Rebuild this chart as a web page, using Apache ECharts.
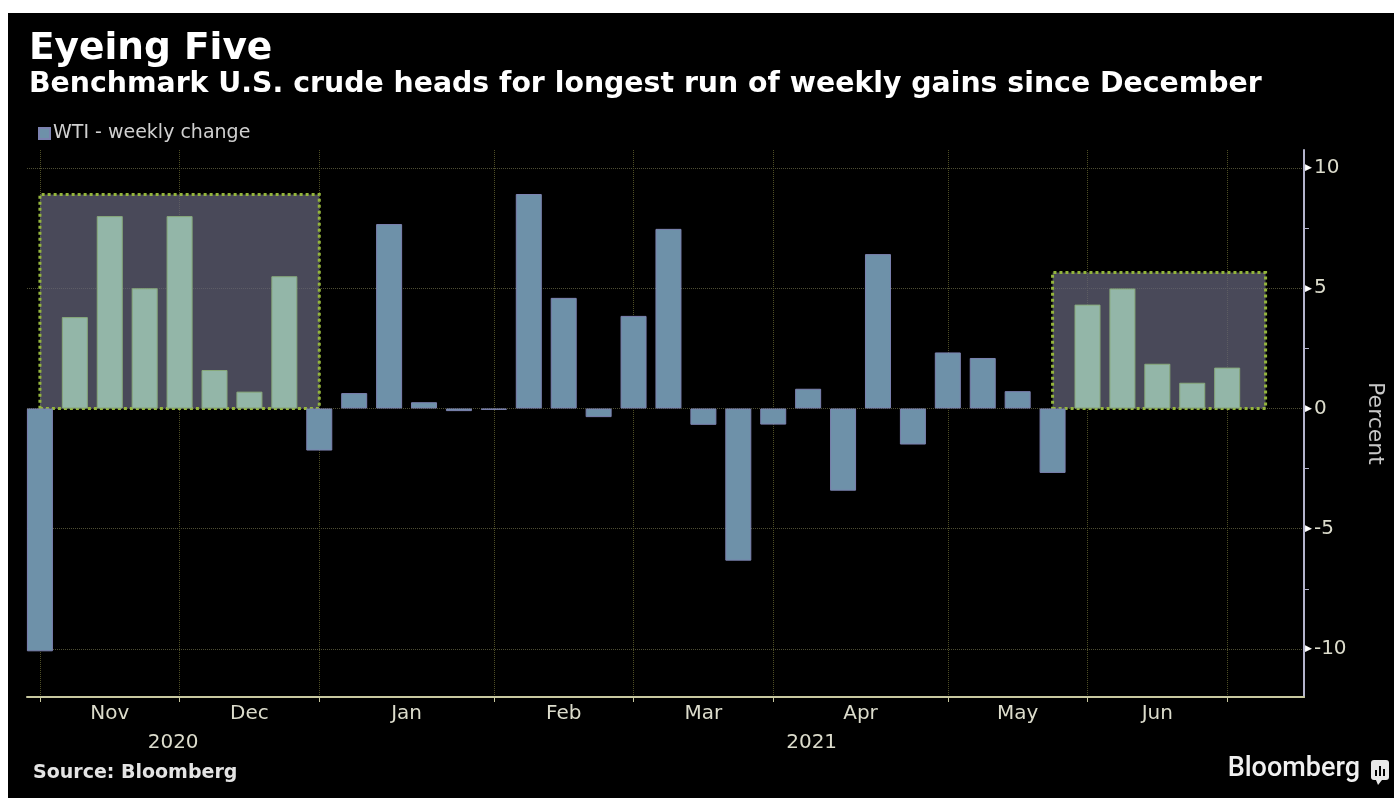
<!DOCTYPE html>
<html>
<head>
<meta charset="utf-8">
<title>Eyeing Five</title>
<script src="https://cdn.jsdelivr.net/npm/echarts@6/dist/echarts.min.js"></script>
<style>
	html, body { margin: 0; padding: 0; background: #fff; }
	#main { position: absolute; left: 8px; top: 13px; width: 1386px; height: 785px; background: #000; }
</style>
</head>
<body>
<div id="main"></div>
<script>
	// weekly closes (Fridays), Oct 30 2020 -> Jun 25 2021
	const weeks = [
		'2020-10-30', '2020-11-06', '2020-11-13', '2020-11-20', '2020-11-27',
		'2020-12-04', '2020-12-11', '2020-12-18', '2020-12-25',
		'2021-01-01', '2021-01-08', '2021-01-15', '2021-01-22', '2021-01-29',
		'2021-02-05', '2021-02-12', '2021-02-19', '2021-02-26',
		'2021-03-05', '2021-03-12', '2021-03-19', '2021-03-26',
		'2021-04-02', '2021-04-09', '2021-04-16', '2021-04-23', '2021-04-30',
		'2021-05-07', '2021-05-14', '2021-05-21', '2021-05-28',
		'2021-06-04', '2021-06-11', '2021-06-18', '2021-06-25'
	]
	// WTI weekly change, percent
	const wtiChange = [
		-10.1, 3.8, 8.0, 5.0, 8.0, 1.6, 0.7, 5.5, -1.75,
		0.64, 7.67, 0.26, -0.11, -0.06,
		8.92, 4.6, -0.36, 3.85,
		7.47, -0.68, -6.33, -0.67,
		0.82, -3.42, 6.42, -1.5, 2.33,
		2.1, 0.72, -2.68, 4.32,
		4.99, 1.86, 1.07, 1.7
	]
	const monthLabels = ['Nov', 'Dec', 'Jan', 'Feb', 'Mar', 'Apr', 'May', 'Jun']
	const yearLabels = ['2020', '2021']
	const yLabels = [-10, -5, 0, 5, 10]
	const yTicks = [-10, -7.5, -5, -2.5, 0, 2.5, 5, 7.5, 10]
	// winning streaks: [from week index, to week index, box top]
	const highlights = [
		[0, 8, 8.9],
		[29, 35.1, 5.65]
	]

	const xMin = -0.37
	const xMax = 36.2

	// gridlines sit on the last week of every month
	const monthEnds = []
	weeks.forEach((d, i) => {
		const next = weeks[i + 1]
		if (!next || next.slice(5, 7) !== d.slice(5, 7)) monthEnds.push(i)
	})
	const monthMids = []
	const monthMap = {}
	for (let k = 0; k < monthEnds.length - 1; k++) {
		const m = (monthEnds[k] + monthEnds[k + 1]) / 2
		monthMids.push(m)
		monthMap[m] = monthLabels[k]
	}
	// year break = last week of 2020
	let yearBreak = 0
	weeks.forEach((d, i) => {
		if (d.slice(0, 4) === '2020') yearBreak = i
	})
	const yearMids = [(xMin + yearBreak) / 2, (yearBreak + xMax) / 2]
	const yearMap = {}
	yearMids.forEach((m, k) => (yearMap[m] = yearLabels[k]))

	const inStreak = (i) => highlights.some((h) => i > h[0] && i < h[1])

	const barData = wtiChange.map((v, i) => {
		const hi = inStreak(i) && v > 0
		return {
			value: [i, v],
			itemStyle: hi ? { color: '#93b6a8', borderColor: '#87a97a' } : {}
		}
	})

	const font = 'DejaVu Sans'
	const labelColor = '#dcdccc'

	const option = {
		backgroundColor: '#000',
		animation: false,
		title: [
			{
				text: 'Eyeing Five',
				left: 16,
				top: 12,
				textStyle: { color: '#fff', fontFamily: font, fontWeight: 'bold', fontSize: 37.5 }
			},
			{
				text: 'Benchmark U.S. crude heads for longest run of weekly gains since December',
				left: 16,
				top: 53,
				textStyle: { color: '#fff', fontFamily: font, fontWeight: 'bold', fontSize: 28.35 }
			}
		],
		legend: {
			data: ['WTI - weekly change'],
			left: 25,
			top: 106,
			icon: 'rect',
			itemWidth: 11,
			itemHeight: 11,
			itemGap: 6,
			textStyle: { color: '#d0d0d0', fontFamily: font, fontSize: 19, padding: [0, 0, 0, -2] }
		},
		grid: { left: 19, right: 84, top: 137, bottom: 101 },
		xAxis: [
			{
				type: 'value',
				min: xMin,
				max: xMax,
				axisLine: { show: true, onZero: false, lineStyle: { color: '#c8c8a0', width: 2 } },
				axisTick: { show: true, customValues: monthEnds, length: 5, lineStyle: { color: '#c8c8a0' } },
				axisLabel: {
					customValues: monthMids,
					margin: 7,
					color: labelColor,
					fontFamily: font,
					fontSize: 20,
					formatter: (v) => monthMap[v] || ''
				},
				splitLine: { show: true, lineStyle: { color: '#4e4e26', type: 'dotted', width: 1 } }
			},
			{
				type: 'value',
				min: xMin,
				max: xMax,
				position: 'bottom',
				offset: 30,
				axisLine: { show: false },
				axisTick: { show: true, customValues: [yearBreak], length: 30, lineStyle: { color: '#c8c8a0' } },
				axisLabel: {
					customValues: yearMids,
					margin: 6,
					color: labelColor,
					fontFamily: font,
					fontSize: 20,
					formatter: (v) => yearMap[v] || ''
				},
				splitLine: { show: false }
			}
		],
		yAxis: {
			type: 'value',
			position: 'right',
			min: -12,
			max: 10.75,
			name: 'Percent',
			nameLocation: 'middle',
			nameRotate: -90,
			nameGap: 60,
			nameTextStyle: { color: '#c8c8c8', fontFamily: font, fontSize: 22 },
			axisLine: { show: true, onZero: false, lineStyle: { color: '#b4b4cc', width: 2 } },
			axisTick: { show: true, customValues: yTicks, length: 5, lineStyle: { color: '#b4b4cc' } },
			axisLabel: {
				customValues: yLabels,
				margin: 1,
				color: labelColor,
				fontFamily: font,
				fontSize: 20,
				formatter: (v) => '{t|▶}' + v,
				rich: { t: { color: '#fff', fontSize: 9, padding: [0, 2, 0, 0] } }
			},
			splitLine: {
				show: true,
				lineStyle: { color: ['#4e4e34', 'rgba(0,0,0,0)'], type: 'dotted', width: 1 }
			}
		},
		series: [
			{
				name: 'WTI - weekly change',
				type: 'bar',
				barWidth: 26,
				z: 3,
				itemStyle: { color: '#6e91a9', borderColor: '#7c82b0', borderWidth: 1 },
				data: barData,
				markArea: {
					silent: true,
					itemStyle: {
						color: 'rgba(98,98,120,0.74)',
						borderColor: '#94b53c',
						borderWidth: 3,
						borderType: 'dotted'
					},
					data: highlights.map((h) => [{ coord: [h[0], h[2]] }, { coord: [h[1], 0] }])
				}
			}
		],
		graphic: [
			{
				type: 'text',
				left: 25,
				top: 751,
				style: { text: 'Source: Bloomberg', fill: '#e4e4e4', font: 'bold 19px "DejaVu Sans"' }
			},
			{
				type: 'text',
				right: 34,
				top: 743,
				style: { text: 'Bloomberg', fill: '#f0f0f0', font: '500 27px Roboto' }
			},
			{
				type: 'group',
				right: 5,
				top: 747,
				children: [
					{ type: 'rect', shape: { x: 0, y: 0, width: 18, height: 20, r: 3 }, style: { fill: '#e8e8e8' } },
					{ type: 'polygon', shape: { points: [[5, 20], [11, 20], [7, 25]] }, style: { fill: '#e8e8e8' } },
					{ type: 'rect', shape: { x: 4, y: 10, width: 2, height: 6 }, style: { fill: '#000' } },
					{ type: 'rect', shape: { x: 8, y: 6, width: 2, height: 10 }, style: { fill: '#000' } },
					{ type: 'rect', shape: { x: 12, y: 9, width: 2, height: 7 }, style: { fill: '#000' } }
				]
			}
		]
	}

	const chart = echarts.init(document.getElementById('main'))
	chart.setOption(option)
	window.onresize = () => {
		chart.resize()
	}
</script>
</body>
</html>
